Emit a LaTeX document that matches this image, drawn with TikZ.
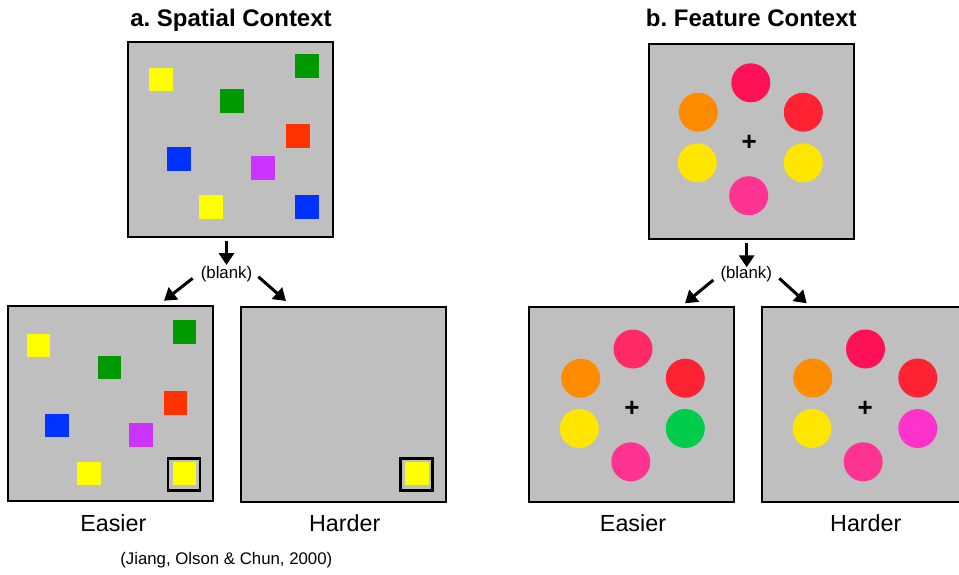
\documentclass[tikz,border=0pt]{standalone}
\usepackage{fontspec}
\setmainfont{Liberation Sans}
\usetikzlibrary{arrows.meta,calc}
\frenchspacing
\definecolor{bg}{RGB}{191,191,191}
\definecolor{sqyel}{RGB}{255,255,0}
\definecolor{sqgrn}{RGB}{0,153,0}
\definecolor{sqred}{RGB}{255,51,0}
\definecolor{sqblu}{RGB}{0,51,255}
\definecolor{sqpur}{RGB}{204,51,255}
\definecolor{ccrim}{RGB}{255,17,85}
\definecolor{ccrimb}{RGB}{255,42,102}
\definecolor{corng}{RGB}{255,140,0}
\definecolor{cred}{RGB}{255,34,51}
\definecolor{cyel}{RGB}{255,230,0}
\definecolor{cpink}{RGB}{255,51,145}
\definecolor{cgrn}{RGB}{0,204,76}
\definecolor{cmag}{RGB}{255,51,204}
\begin{document}
\begin{tikzpicture}[x=1pt,y=-1pt,
  panel/.style={draw=black, line width=2pt, fill=bg, minimum width=205pt, minimum height=195pt, inner sep=0pt, outer sep=0pt},
  sq/.style={minimum size=23.5pt, inner sep=0pt, outer sep=0pt},
  dot/.style={circle, minimum size=39pt, inner sep=0pt, outer sep=0pt},
  tframe/.style={draw=black, line width=2.5pt, minimum size=32pt, inner sep=0pt},
  arr/.style={line width=3pt, -{Triangle[length=12pt,width=15pt]}},
  ttl/.style={font=\fontsize{24}{29}\selectfont\bfseries, anchor=base, inner sep=0pt},
  lbl/.style={font=\fontsize{23.3}{28}\selectfont, anchor=base, inner sep=0pt},
  small/.style={font=\fontsize{16.8}{20}\selectfont, anchor=base, inner sep=0pt},
  fix/.style={font=\fontsize{26}{30}\selectfont\bfseries, inner sep=0pt}]
\useasboundingbox (0,0) rectangle (959,574);

% ---------- titles ----------
\node[ttl] (ta) at (231,26.5) {a. Spatial Context};
\node[ttl] (tb) at (751.3,26.5) {b. Feature Context};

% ---------- spatial context: top panel ----------
\node[panel] (TL) at (230.5,139.5) {};
\node[sq,fill=sqyel] (tl1) at (161,79.5) {};
\node[sq,fill=sqgrn] (tl2) at (307,66) {};
\node[sq,fill=sqgrn] (tl3) at (232,101) {};
\node[sq,fill=sqred] (tl4) at (298,136) {};
\node[sq,fill=sqblu] (tl5) at (179,159) {};
\node[sq,fill=sqpur] (tl6) at (263,168) {};
\node[sq,fill=sqyel] (tl7) at (211,207) {};
\node[sq,fill=sqblu] (tl8) at (307,207) {};

% ---------- spatial context: easier ----------
\node[panel] (EL) at (110.5,403.5) {};
\node[sq,fill=sqyel] (el1) at (38.7,345.7) {};
\node[sq,fill=sqgrn] (el2) at (184.7,332) {};
\node[sq,fill=sqgrn] (el3) at (109.7,367.7) {};
\node[sq,fill=sqred] (el4) at (175.7,403) {};
\node[sq,fill=sqblu] (el5) at (57,425.5) {};
\node[sq,fill=sqpur] (el6) at (141,434.8) {};
\node[sq,fill=sqyel] (el7) at (89,473.7) {};
\node[sq,fill=sqyel] (el8) at (184.7,473.7) {};
\node[tframe] (elf) at (184.2,474.3) {};

% ---------- spatial context: harder ----------
\node[panel] (HL) at (343.5,404) {};
\node[sq,fill=sqyel] (hl8) at (417,473.7) {};
\node[tframe] (hlf) at (416.5,474.5) {};

% ---------- feature context: top panel ----------
\node[panel] (TR) at (751.5,141.5) {};
\node[dot,fill=ccrim] (tr1) at (750.8,82.8) {};
\node[dot,fill=corng] (tr2) at (698.3,112.2) {};
\node[dot,fill=cred]  (tr3) at (803.3,112.2) {};
\node[dot,fill=cyel]  (tr4) at (697.3,162.8) {};
\node[dot,fill=cyel]  (tr5) at (803.3,162.8) {};
\node[dot,fill=cpink] (tr6) at (748.7,195.7) {};
\node[fix] (trx) at (749.3,142.7) {+};

% ---------- feature context: easier ----------
\node[panel] (ER) at (631.5,404.5) {};
\node[dot,fill=ccrimb] (er1) at (633,349) {};
\node[dot,fill=corng] (er2) at (580.7,378.2) {};
\node[dot,fill=cred]  (er3) at (685.3,378.2) {};
\node[dot,fill=cyel]  (er4) at (579.3,428.5) {};
\node[dot,fill=cgrn]  (er5) at (685.3,428.5) {};
\node[dot,fill=cpink] (er6) at (630.8,461.8) {};
\node[fix] (erx) at (632,409) {+};

% ---------- feature context: harder ----------
\node[panel] (HR) at (864.5,404.5) {};
\node[dot,fill=ccrim] (hr1) at (865.5,349) {};
\node[dot,fill=corng] (hr2) at (812.8,378) {};
\node[dot,fill=cred]  (hr3) at (917.8,378) {};
\node[dot,fill=cyel]  (hr4) at (812,428.5) {};
\node[dot,fill=cmag]  (hr5) at (917.8,428.5) {};
\node[dot,fill=cpink] (hr6) at (863.2,461.8) {};
\node[fix] (hrx) at (865.3,409) {+};

% ---------- blank labels and arrows ----------
\node[small] (bL) at (226.5,278.5) {(blank)};
\node[small] (bR) at (746.2,278.5) {(blank)};

\coordinate (bLd) at (226.5,240.5);
\coordinate (bLe) at (226.5,265);
\coordinate (bL1) at (192.7,278.3);
\coordinate (bL1e) at (164,300.7);
\coordinate (bL2) at (258.3,276.7);
\coordinate (bL2e) at (286,301);
\draw[arr] (bLd) -- (bLe);
\draw[arr] (bL1) -- (bL1e);
\draw[arr] (bL2) -- (bL2e);

\coordinate (bRd) at (746.7,243.3);
\coordinate (bRe) at (746.7,267.3);
\coordinate (bR1) at (713.3,280);
\coordinate (bR1e) at (685,303.3);
\coordinate (bR2) at (779.3,278.3);
\coordinate (bR2e) at (806.7,303.3);
\draw[arr] (bRd) -- (bRe);
\draw[arr] (bR1) -- (bR1e);
\draw[arr] (bR2) -- (bR2e);

% ---------- condition labels ----------
\node[lbl] (lel) at (113.3,531) {Easier};
\node[lbl] (lhl) at (344.7,531) {Harder};
\node[lbl] (ler) at (633,531) {Easier};
\node[lbl] (lhr) at (865.8,531) {Harder};
\node[small] (cite) at (226.3,564.5) {(Jiang, Olson \& Chun, 2000)};
\end{tikzpicture}
\end{document}
